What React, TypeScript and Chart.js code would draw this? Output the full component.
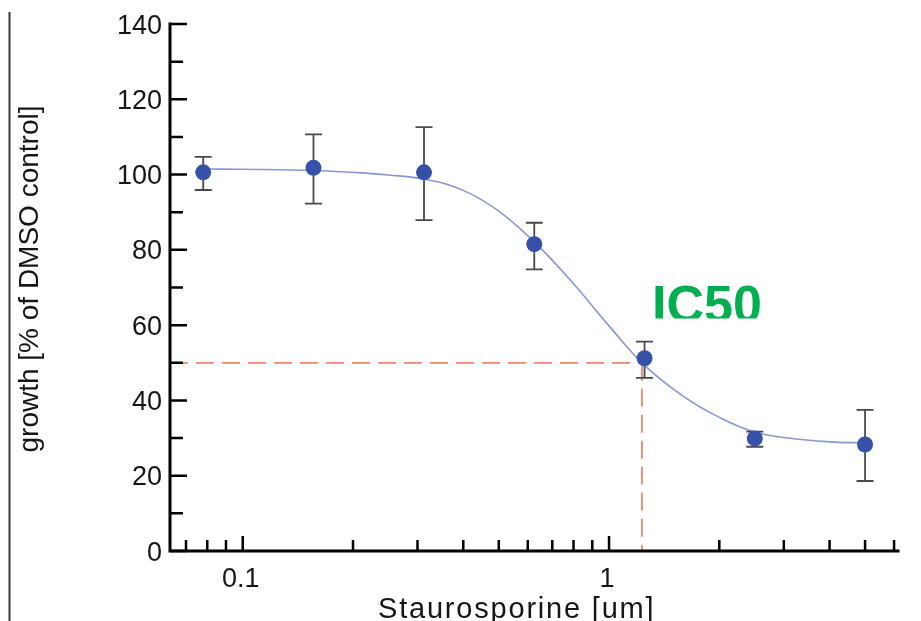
import React, { useEffect, useRef } from "react";
import { Chart, registerables } from "chart.js";

Chart.register(...registerables);

// ---- data ----
const concentrations = [0.078, 0.156, 0.3125, 0.625, 1.25, 2.5, 5.0];
const growthMean = [100.6, 101.8, 100.6, 81.5, 51.2, 29.9, 28.3];
const errorUpper = [104.7, 110.7, 112.6, 87.2, 55.6, 31.7, 37.5];
const errorLower = [95.9, 92.3, 87.9, 74.8, 46.0, 27.7, 18.6];

// fitted curve at several concentrations
const fitX = [0.078, 0.1, 0.156, 0.2, 0.25, 0.32, 0.4, 0.5, 0.63, 0.8, 1.0, 1.25, 1.6, 2.0, 2.5, 3.2, 4.0, 5.0];
const fitY = [101.5, 101.4, 101.1, 100.6, 99.9, 98.6, 95.8, 90.3, 81.8, 71.0, 59.8, 49.3, 41.0, 35.5, 31.6, 29.8, 29.0, 28.7];

const ic50X = 1.23;
const ic50Y = 50;

const X_MIN = 0.0633;
const X_MAX = 6.15;
const Y_MIN = 0;
const Y_MAX = 140;

const yMajorTicks = [0, 20, 40, 60, 80, 100, 120, 140];
const yMinorTicks = [10, 30, 50, 70, 90, 110, 130];
const xMajorTicks = [0.1, 1];
const xMajorLabels = ["0.1", "1"];
const xMinorTicks = [0.07, 0.08, 0.09, 0.2, 0.3, 0.4, 0.5, 0.6, 0.7, 0.8, 0.9, 2, 3, 4, 5, 6];

const xTitle = "Staurosporine [um]";
const yTitle = "growth [% of DMSO control]";
const ic50Label = "IC50";

const FONT = "'Liberation Sans', Arial, Helvetica, sans-serif";

const W = 921;
const H = 621;

const decorPlugin = {
  id: "decor",
  beforeDatasetDraw(chart: any, args: any) {
    if (args.index !== 0) return;
    const ctx = chart.ctx;
    const xs = chart.scales.x;
    const ys = chart.scales.y;
    ctx.save();
    ctx.strokeStyle = "#4a4a4a";
    ctx.lineWidth = 1.8;
    for (let i = 0; i < concentrations.length; i++) {
      const px = xs.getPixelForValue(concentrations[i]);
      const pt = ys.getPixelForValue(errorUpper[i]);
      const pb = ys.getPixelForValue(errorLower[i]);
      ctx.beginPath();
      ctx.moveTo(px, pt);
      ctx.lineTo(px, pb);
      ctx.moveTo(px - 8.5, pt);
      ctx.lineTo(px + 8.5, pt);
      ctx.moveTo(px - 8.5, pb);
      ctx.lineTo(px + 8.5, pb);
      ctx.stroke();
    }
    ctx.restore();
  },
  afterDraw(chart: any) {
    const ctx = chart.ctx;
    const xs = chart.scales.x;
    const ys = chart.scales.y;
    const left = xs.getPixelForValue(X_MIN);
    const right = xs.getPixelForValue(X_MAX);
    const top = ys.getPixelForValue(Y_MAX);
    const bottom = ys.getPixelForValue(Y_MIN);

    ctx.save();
    // left figure border line
    ctx.strokeStyle = "#3a3a3a";
    ctx.lineWidth = 2;
    ctx.beginPath();
    ctx.moveTo(9.5, 12);
    ctx.lineTo(9.5, H);
    ctx.stroke();

    // axes
    ctx.strokeStyle = "#000000";
    ctx.lineWidth = 3;
    ctx.lineCap = "square";
    ctx.beginPath();
    ctx.moveTo(left, top);
    ctx.lineTo(left, bottom);
    ctx.lineTo(right, bottom);
    ctx.stroke();

    // y ticks (inward)
    ctx.lineWidth = 2.5;
    ctx.lineCap = "butt";
    ctx.beginPath();
    yMajorTicks.forEach((v) => {
      const py = ys.getPixelForValue(v);
      ctx.moveTo(left, py);
      ctx.lineTo(left + 17, py);
    });
    yMinorTicks.forEach((v) => {
      const py = ys.getPixelForValue(v);
      ctx.moveTo(left, py);
      ctx.lineTo(left + 13, py);
    });
    // x ticks (inward)
    xMajorTicks.forEach((v) => {
      const px = xs.getPixelForValue(v);
      ctx.moveTo(px, bottom);
      ctx.lineTo(px, bottom - 15);
    });
    xMinorTicks.forEach((v) => {
      const px = xs.getPixelForValue(v);
      ctx.moveTo(px, bottom);
      ctx.lineTo(px, bottom - 11);
    });
    ctx.stroke();

    // y tick labels
    ctx.fillStyle = "#161616";
    ctx.font = `27px ${FONT}`;
    ctx.textAlign = "right";
    ctx.textBaseline = "alphabetic";
    yMajorTicks.forEach((v) => {
      const py = ys.getPixelForValue(v);
      ctx.fillText(String(v), left - 8, py + 9.5);
    });
    // x tick labels
    ctx.textAlign = "center";
    xMajorTicks.forEach((v, i) => {
      const px = xs.getPixelForValue(v);
      ctx.fillText(xMajorLabels[i], px - 2, bottom + 36);
    });

    // x title
    ctx.font = `29px ${FONT}`;
    ctx.textAlign = "left";
    try {
      (ctx as any).letterSpacing = "1.8px";
    } catch (e) {}
    ctx.fillText(xTitle, 378, H - 3);
    try {
      (ctx as any).letterSpacing = "0px";
    } catch (e) {}

    // y title
    ctx.save();
    ctx.translate(38, 279);
    ctx.rotate(-Math.PI / 2);
    ctx.font = `28px ${FONT}`;
    ctx.textAlign = "center";
    ctx.fillText(yTitle, 0, 0);
    ctx.restore();

    // IC50 label (bottom clipped as in reference)
    ctx.save();
    ctx.beginPath();
    ctx.rect(0, 0, W, 318.5);
    ctx.clip();
    ctx.fillStyle = "#00b050";
    ctx.font = `bold 52px ${FONT}`;
    ctx.textAlign = "left";
    ctx.fillText(ic50Label, 652, 321.5);
    ctx.restore();

    ctx.restore();
  },
};

export default function App() {
  const ref = useRef<HTMLCanvasElement | null>(null);

  useEffect(() => {
    if (!ref.current) return;
    const chart = new Chart(ref.current, {
      type: "scatter",
      data: {
        datasets: [
          {
            label: "mean",
            data: concentrations.map((x, i) => ({ x, y: growthMean[i] })),
            backgroundColor: "#3551a8",
            borderColor: "#3551a8",
            pointRadius: 8,
            pointBorderWidth: 0,
            showLine: false,
          },
          {
            label: "fit",
            data: fitX.map((x, i) => ({ x, y: fitY[i] })),
            showLine: true,
            borderColor: "#8895d8",
            borderWidth: 1.6,
            pointRadius: 0,
            tension: 0.4,
          },
          {
            label: "ic50h",
            data: [
              { x: X_MIN, y: ic50Y },
              { x: ic50X, y: ic50Y },
            ],
            showLine: true,
            borderColor: "#f3866c",
            borderWidth: 1.8,
            borderDash: [18, 8],
            pointRadius: 0,
          },
          {
            label: "ic50v",
            data: [
              { x: ic50X, y: ic50Y },
              { x: ic50X, y: Y_MIN },
            ],
            showLine: true,
            borderColor: "#f3866c",
            borderWidth: 1.8,
            borderDash: [18, 8],
            pointRadius: 0,
          },
        ],
      },
      options: {
        responsive: false,
        animation: false,
        devicePixelRatio: 1,
        layout: {
          autoPadding: false,
          padding: { left: 170, right: W - 898, top: 24, bottom: H - 551 },
        },
        plugins: {
          legend: { display: false },
          tooltip: { enabled: false },
        },
        scales: {
          x: { type: "logarithmic", min: X_MIN, max: X_MAX, display: false },
          y: { type: "linear", min: Y_MIN, max: Y_MAX, display: false },
        },
      } as any,
      plugins: [decorPlugin],
    });
    return () => chart.destroy();
  }, []);

  return (
    <canvas
      ref={ref}
      width={W}
      height={H}
      style={{ position: "fixed", left: 0, top: 0, width: W, height: H, background: "#ffffff" }}
    />
  );
}
